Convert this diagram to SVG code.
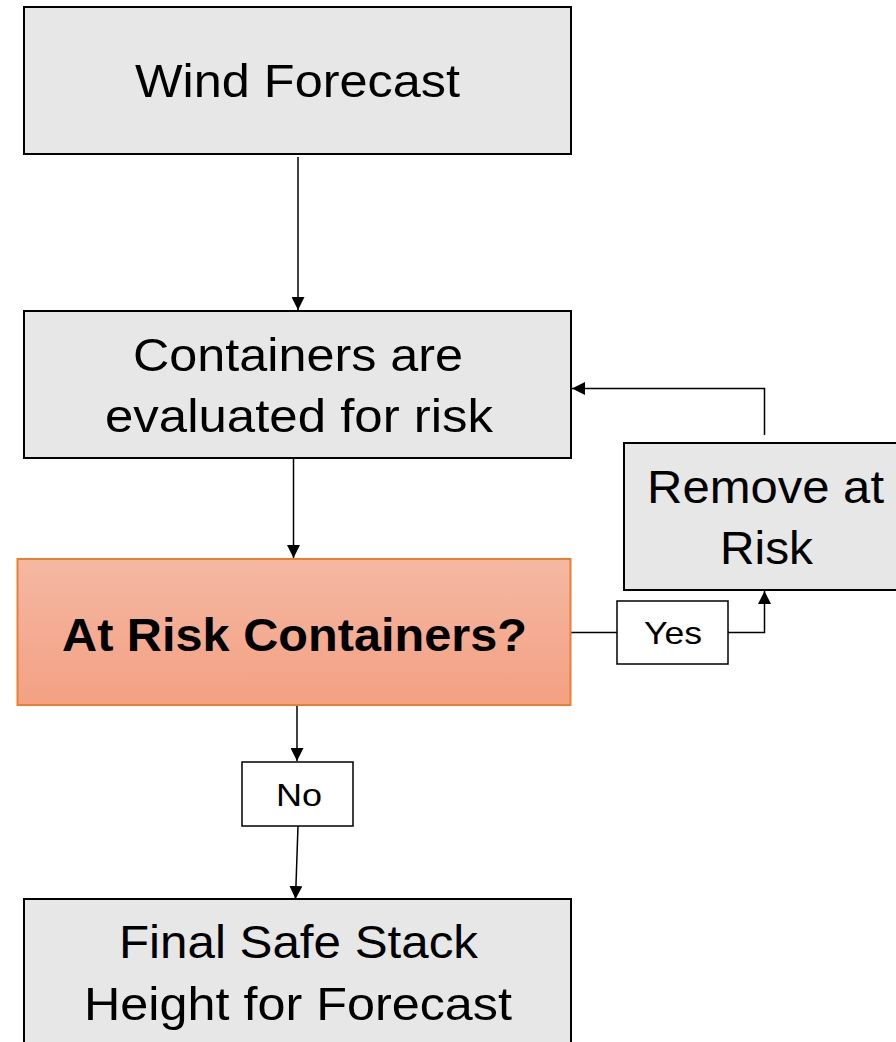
<svg xmlns="http://www.w3.org/2000/svg" width="896" height="1042" viewBox="0 0 896 1042">
<style>
.box{fill:#E7E7E7;stroke:#000;stroke-width:2}
.lbl{fill:#FFF;stroke:#000;stroke-width:1.5}
.t{font-family:"Liberation Sans",Arial,sans-serif;font-size:46px;fill:#000;text-anchor:middle}
.s{font-family:"Liberation Sans",Arial,sans-serif;font-size:32px;fill:#000;text-anchor:middle}
.b{font-weight:bold}
.c{fill:none;stroke:#000;stroke-width:1.5}
</style>
<defs>
<linearGradient id="g" x1="0" y1="0" x2="0" y2="1">
<stop offset="0" stop-color="#F4B8A2"/>
<stop offset="1" stop-color="#F4A083"/>
</linearGradient>
<marker id="ah" viewBox="0 0 10 10" refX="10" refY="5" markerWidth="13" markerHeight="13" markerUnits="userSpaceOnUse" orient="auto">
<path d="M0,0L10,5L0,10z" fill="#000"/>
</marker>
</defs>
<g id="connectors">
<path class="c" d="M298,157V310" marker-end="url(#ah)"/>
<path class="c" d="M293.5,458V558" marker-end="url(#ah)"/>
<path class="c" d="M764.5,435V388.5H572" marker-end="url(#ah)"/>
<path class="c" d="M571,632.5H617"/>
<path class="c" d="M728,632.5H764.5V591" marker-end="url(#ah)"/>
<path class="c" d="M297,706V761" marker-end="url(#ah)"/>
<path class="c" d="M298,826L295.5,899" marker-end="url(#ah)"/>
</g>
<g id="wind">
<rect class="box" x="24" y="7" width="547" height="147"/>
<text class="t" x="297.5" y="97" textLength="325" lengthAdjust="spacingAndGlyphs">Wind Forecast</text>
</g>
<g id="evaluate">
<rect class="box" x="24" y="311" width="547" height="147"/>
<text class="t" x="298" y="371" textLength="330" lengthAdjust="spacingAndGlyphs">Containers are</text>
<text class="t" x="299" y="432" textLength="388" lengthAdjust="spacingAndGlyphs">evaluated for risk</text>
</g>
<g id="decision">
<rect x="17.5" y="559" width="553" height="146" fill="url(#g)" stroke="#ED7D31" stroke-width="2"/>
<text class="t b" x="294.5" y="651" textLength="465" lengthAdjust="spacingAndGlyphs">At Risk Containers?</text>
</g>
<g id="remove">
<rect class="box" x="624" y="443" width="290" height="147"/>
<text class="t" x="765.5" y="503" textLength="237" lengthAdjust="spacingAndGlyphs">Remove at</text>
<text class="t" x="766.5" y="564" textLength="93" lengthAdjust="spacingAndGlyphs">Risk</text>
</g>
<g id="yes">
<rect class="lbl" x="617" y="601" width="111" height="63"/>
<text class="s" x="673" y="644" textLength="58" lengthAdjust="spacingAndGlyphs">Yes</text>
</g>
<g id="no">
<rect class="lbl" x="242" y="762" width="111" height="64"/>
<text class="s" x="299" y="806" textLength="46" lengthAdjust="spacingAndGlyphs">No</text>
</g>
<g id="final">
<rect class="box" x="24" y="899" width="547" height="160"/>
<text class="t" x="298.5" y="958" textLength="359" lengthAdjust="spacingAndGlyphs">Final Safe Stack</text>
<text class="t" x="298" y="1020" textLength="428" lengthAdjust="spacingAndGlyphs">Height for Forecast</text>
</g>
</svg>
